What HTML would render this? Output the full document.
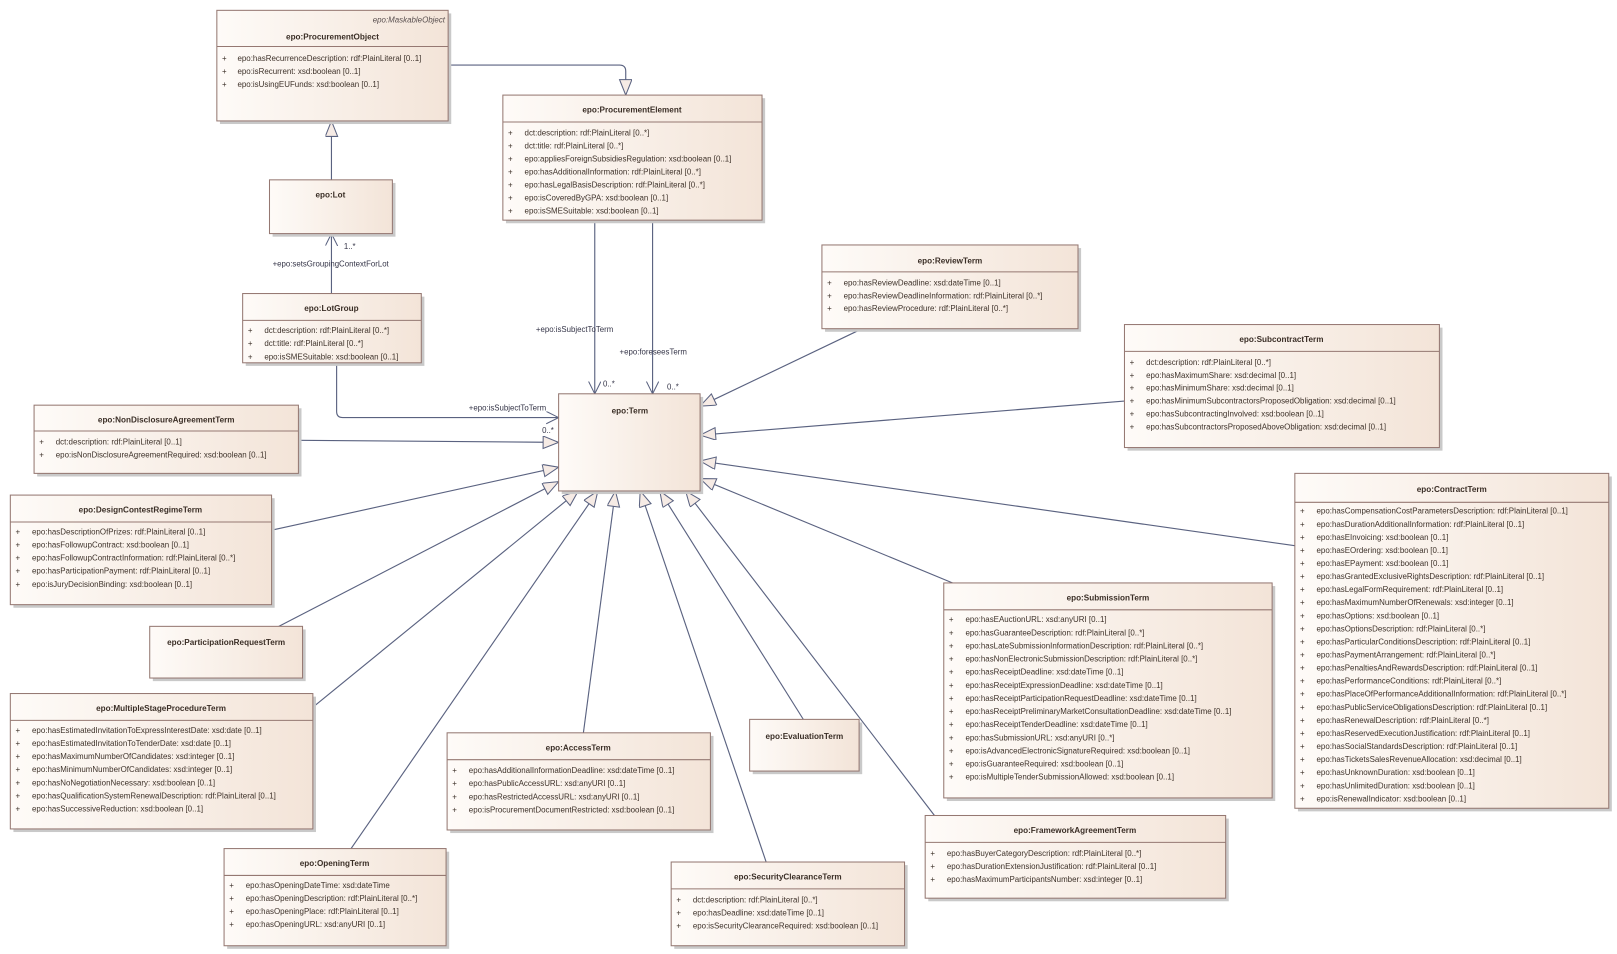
<!DOCTYPE html>
<html><head><meta charset="utf-8"><style>
html,body{margin:0;padding:0;background:#fff;}
svg{display:block;}
text{font-family:"Liberation Sans",sans-serif;font-size:7.7px;fill:#3e322a;}
.n{font-size:7.9px;text-anchor:middle;fill:#3a2e26;font-weight:bold;}
.st{font-style:italic;text-anchor:end;fill:#5a5050;}
.lb{font-size:7.6px;fill:#353548;}
.ln{stroke:#5a6280;stroke-width:1.1;fill:none;}
.bx{fill:url(#g);stroke:#957872;stroke-width:1;}
.sh{fill:#c9c9c9;}
.dv{stroke:#957872;stroke-width:1;}
</style></head><body>
<svg width="1617" height="954" viewBox="0 0 1566 923" preserveAspectRatio="none" xmlns="http://www.w3.org/2000/svg">
<defs>
<linearGradient id="g" x1="0" y1="0" x2="1" y2="0"><stop offset="0" stop-color="#fefbf8"/><stop offset="1" stop-color="#f3e4d8"/></linearGradient>
<marker id="tri" markerUnits="userSpaceOnUse" markerWidth="18" markerHeight="14" refX="16" refY="6" orient="auto"><path d="M1,0 L16,6 L1,12 Z" fill="#f6ebe5" stroke="#5a6280" stroke-width="1"/></marker>
<marker id="opn" markerUnits="userSpaceOnUse" markerWidth="14" markerHeight="14" refX="12" refY="6" orient="auto"><path d="M0,0 L12,6 L0,12" fill="none" stroke="#5a6280" stroke-width="1"/></marker>
</defs>

<path class="ln" d="M434,63 H600 Q606,63 606,69 V92" marker-end="url(#tri)"/>
<line class="ln" x1="321" y1="174" x2="321" y2="117" marker-end="url(#tri)"/>
<line class="ln" x1="321" y1="284" x2="321" y2="226" marker-end="url(#opn)"/>
<path class="ln" d="M326,351 V398 Q326,404 332,404 H541" marker-end="url(#opn)"/>
<line class="ln" x1="576" y1="213" x2="576" y2="381" marker-end="url(#opn)"/>
<line class="ln" x1="632" y1="213" x2="632" y2="381" marker-end="url(#opn)"/>
<line class="ln" x1="835" y1="318" x2="678" y2="393" marker-end="url(#tri)"/>
<line class="ln" x1="1089" y1="388" x2="678" y2="421" marker-end="url(#tri)"/>
<line class="ln" x1="1254" y1="528" x2="678" y2="446" marker-end="url(#tri)"/>
<line class="ln" x1="925" y1="565" x2="678" y2="463" marker-end="url(#tri)"/>
<line class="ln" x1="289" y1="426" x2="541" y2="428" marker-end="url(#tri)"/>
<line class="ln" x1="263" y1="513" x2="541" y2="452" marker-end="url(#tri)"/>
<line class="ln" x1="270" y1="606" x2="541" y2="466" marker-end="url(#tri)"/>
<line class="ln" x1="302" y1="685" x2="560" y2="475" marker-end="url(#tri)"/>
<line class="ln" x1="340" y1="821" x2="579" y2="475" marker-end="url(#tri)"/>
<line class="ln" x1="565" y1="709" x2="596" y2="475" marker-end="url(#tri)"/>
<line class="ln" x1="742" y1="834" x2="620" y2="475" marker-end="url(#tri)"/>
<line class="ln" x1="778" y1="696" x2="639" y2="475" marker-end="url(#tri)"/>
<line class="ln" x1="905" y1="789" x2="664" y2="475" marker-end="url(#tri)"/>

<text class="lb" x="333" y="241">1..*</text>
<text class="lb" x="264" y="258">+epo:setsGroupingContextForLot</text>
<text class="lb" x="454" y="397">+epo:isSubjectToTerm</text>
<text class="lb" x="525" y="419">0..*</text>
<text class="lb" x="519" y="321">+epo:isSubjectToTerm</text>
<text class="lb" x="584" y="374">0..*</text>
<text class="lb" x="600" y="343">+epo:foreseesTerm</text>
<text class="lb" x="646" y="377">0..*</text>

<rect class="sh" x="213" y="13" width="224" height="107"/><rect class="bx" x="210" y="10" width="224" height="107"/>
<text class="st" x="431" y="22">epo:MaskableObject</text>
<text class="n" x="322" y="38">epo:ProcurementObject</text>
<line class="dv" x1="210" y1="45" x2="434" y2="45"/>
<g><text x="215" y="59">+</text><text x="230" y="59">epo:hasRecurrenceDescription: rdf:PlainLiteral [0..1]</text>
<text x="215" y="71.7">+</text><text x="230" y="71.7">epo:isRecurrent: xsd:boolean [0..1]</text>
<text x="215" y="84.4">+</text><text x="230" y="84.4">epo:isUsingEUFunds: xsd:boolean [0..1]</text></g>

<rect class="sh" x="490" y="95" width="251" height="121"/><rect class="bx" x="487" y="92" width="251" height="121"/>
<text class="n" x="612" y="109">epo:ProcurementElement</text>
<line class="dv" x1="487" y1="118" x2="738" y2="118"/>
<g><text x="492" y="131">+</text><text x="508" y="131">dct:description: rdf:PlainLiteral [0..*]</text>
<text x="492" y="143.6">+</text><text x="508" y="143.6">dct:title: rdf:PlainLiteral [0..*]</text>
<text x="492" y="156.2">+</text><text x="508" y="156.2">epo:appliesForeignSubsidiesRegulation: xsd:boolean [0..1]</text>
<text x="492" y="168.8">+</text><text x="508" y="168.8">epo:hasAdditionalInformation: rdf:PlainLiteral [0..*]</text>
<text x="492" y="181.4">+</text><text x="508" y="181.4">epo:hasLegalBasisDescription: rdf:PlainLiteral [0..*]</text>
<text x="492" y="194">+</text><text x="508" y="194">epo:isCoveredByGPA: xsd:boolean [0..1]</text>
<text x="492" y="206.6">+</text><text x="508" y="206.6">epo:isSMESuitable: xsd:boolean [0..1]</text></g>

<rect class="sh" x="264" y="177" width="119" height="52"/><rect class="bx" x="261" y="174" width="119" height="52"/>
<text class="n" x="320" y="191">epo:Lot</text>

<rect class="sh" x="238" y="287" width="173" height="67"/><rect class="bx" x="235" y="284" width="173" height="67"/>
<text class="n" x="321" y="301">epo:LotGroup</text>
<line class="dv" x1="235" y1="310" x2="408" y2="310"/>
<text x="240" y="322">+</text><text x="256" y="322">dct:description: rdf:PlainLiteral [0..*]</text>
<text x="240" y="335">+</text><text x="256" y="335">dct:title: rdf:PlainLiteral [0..*]</text>
<text x="240" y="348">+</text><text x="256" y="348">epo:isSMESuitable: xsd:boolean [0..1]</text>

<rect class="sh" x="799" y="240" width="248" height="81"/><rect class="bx" x="796" y="237" width="248" height="81"/>
<text class="n" x="920" y="255">epo:ReviewTerm</text>
<line class="dv" x1="796" y1="263" x2="1044" y2="263"/>
<text x="801" y="276">+</text><text x="817" y="276">epo:hasReviewDeadline: xsd:dateTime [0..1]</text>
<text x="801" y="289">+</text><text x="817" y="289">epo:hasReviewDeadlineInformation: rdf:PlainLiteral [0..*]</text>
<text x="801" y="301">+</text><text x="817" y="301">epo:hasReviewProcedure: rdf:PlainLiteral [0..*]</text>

<rect class="sh" x="1092" y="317" width="305" height="119"/><rect class="bx" x="1089" y="314" width="305" height="119"/>
<text class="n" x="1241" y="331">epo:SubcontractTerm</text>
<line class="dv" x1="1089" y1="340" x2="1394" y2="340"/>
<g><text x="1094" y="353">+</text><text x="1110" y="353">dct:description: rdf:PlainLiteral [0..*]</text>
<text x="1094" y="365.5">+</text><text x="1110" y="365.5">epo:hasMaximumShare: xsd:decimal [0..1]</text>
<text x="1094" y="378">+</text><text x="1110" y="378">epo:hasMinimumShare: xsd:decimal [0..1]</text>
<text x="1094" y="390.5">+</text><text x="1110" y="390.5">epo:hasMinimumSubcontractorsProposedObligation: xsd:decimal [0..1]</text>
<text x="1094" y="403">+</text><text x="1110" y="403">epo:hasSubcontractingInvolved: xsd:boolean [0..1]</text>
<text x="1094" y="415.5">+</text><text x="1110" y="415.5">epo:hasSubcontractorsProposedAboveObligation: xsd:decimal [0..1]</text></g>

<rect class="sh" x="36" y="395" width="256" height="66"/><rect class="bx" x="33" y="392" width="256" height="66"/>
<text class="n" x="161" y="409">epo:NonDisclosureAgreementTerm</text>
<line class="dv" x1="33" y1="417" x2="289" y2="417"/>
<text x="38" y="430">+</text><text x="54" y="430">dct:description: rdf:PlainLiteral [0..1]</text>
<text x="38" y="442.5">+</text><text x="54" y="442.5">epo:isNonDisclosureAgreementRequired: xsd:boolean [0..1]</text>

<rect class="sh" x="544" y="384" width="137" height="94"/><rect class="bx" x="541" y="381" width="137" height="94"/>
<text class="n" x="610" y="400">epo:Term</text>

<rect class="sh" x="13" y="482" width="253" height="106"/><rect class="bx" x="10" y="479" width="253" height="106"/>
<text class="n" x="136" y="496">epo:DesignContestRegimeTerm</text>
<line class="dv" x1="10" y1="505" x2="263" y2="505"/>
<g><text x="15" y="517">+</text><text x="31" y="517">epo:hasDescriptionOfPrizes: rdf:PlainLiteral [0..1]</text>
<text x="15" y="529.7">+</text><text x="31" y="529.7">epo:hasFollowupContract: xsd:boolean [0..1]</text>
<text x="15" y="542.4">+</text><text x="31" y="542.4">epo:hasFollowupContractInformation: rdf:PlainLiteral [0..*]</text>
<text x="15" y="555.1">+</text><text x="31" y="555.1">epo:hasParticipationPayment: rdf:PlainLiteral [0..1]</text>
<text x="15" y="567.8">+</text><text x="31" y="567.8">epo:isJuryDecisionBinding: xsd:boolean [0..1]</text></g>

<rect class="sh" x="1257" y="461" width="304" height="324"/><rect class="bx" x="1254" y="458" width="304" height="324"/>
<text class="n" x="1406" y="476">epo:ContractTerm</text>
<line class="dv" x1="1254" y1="486" x2="1558" y2="486"/>
<g>
<text x="1259" y="497">+</text><text x="1275" y="497">epo:hasCompensationCostParametersDescription: rdf:PlainLiteral [0..1]</text>
<text x="1259" y="509.65">+</text><text x="1275" y="509.65">epo:hasDurationAdditionalInformation: rdf:PlainLiteral [0..1]</text>
<text x="1259" y="522.3">+</text><text x="1275" y="522.3">epo:hasEInvoicing: xsd:boolean [0..1]</text>
<text x="1259" y="534.95">+</text><text x="1275" y="534.95">epo:hasEOrdering: xsd:boolean [0..1]</text>
<text x="1259" y="547.6">+</text><text x="1275" y="547.6">epo:hasEPayment: xsd:boolean [0..1]</text>
<text x="1259" y="560.25">+</text><text x="1275" y="560.25">epo:hasGrantedExclusiveRightsDescription: rdf:PlainLiteral [0..1]</text>
<text x="1259" y="572.9">+</text><text x="1275" y="572.9">epo:hasLegalFormRequirement: rdf:PlainLiteral [0..1]</text>
<text x="1259" y="585.55">+</text><text x="1275" y="585.55">epo:hasMaximumNumberOfRenewals: xsd:integer [0..1]</text>
<text x="1259" y="598.2">+</text><text x="1275" y="598.2">epo:hasOptions: xsd:boolean [0..1]</text>
<text x="1259" y="610.85">+</text><text x="1275" y="610.85">epo:hasOptionsDescription: rdf:PlainLiteral [0..*]</text>
<text x="1259" y="623.5">+</text><text x="1275" y="623.5">epo:hasParticularConditionsDescription: rdf:PlainLiteral [0..1]</text>
<text x="1259" y="636.15">+</text><text x="1275" y="636.15">epo:hasPaymentArrangement: rdf:PlainLiteral [0..*]</text>
<text x="1259" y="648.8">+</text><text x="1275" y="648.8">epo:hasPenaltiesAndRewardsDescription: rdf:PlainLiteral [0..1]</text>
<text x="1259" y="661.45">+</text><text x="1275" y="661.45">epo:hasPerformanceConditions: rdf:PlainLiteral [0..*]</text>
<text x="1259" y="674.1">+</text><text x="1275" y="674.1">epo:hasPlaceOfPerformanceAdditionalInformation: rdf:PlainLiteral [0..*]</text>
<text x="1259" y="686.75">+</text><text x="1275" y="686.75">epo:hasPublicServiceObligationsDescription: rdf:PlainLiteral [0..1]</text>
<text x="1259" y="699.4">+</text><text x="1275" y="699.4">epo:hasRenewalDescription: rdf:PlainLiteral [0..*]</text>
<text x="1259" y="712.05">+</text><text x="1275" y="712.05">epo:hasReservedExecutionJustification: rdf:PlainLiteral [0..1]</text>
<text x="1259" y="724.7">+</text><text x="1275" y="724.7">epo:hasSocialStandardsDescription: rdf:PlainLiteral [0..1]</text>
<text x="1259" y="737.35">+</text><text x="1275" y="737.35">epo:hasTicketsSalesRevenueAllocation: xsd:decimal [0..1]</text>
<text x="1259" y="750">+</text><text x="1275" y="750">epo:hasUnknownDuration: xsd:boolean [0..1]</text>
<text x="1259" y="762.65">+</text><text x="1275" y="762.65">epo:hasUnlimitedDuration: xsd:boolean [0..1]</text>
<text x="1259" y="775.3">+</text><text x="1275" y="775.3">epo:isRenewalIndicator: xsd:boolean [0..1]</text>
</g>

<rect class="sh" x="148" y="609" width="148" height="50"/><rect class="bx" x="145" y="606" width="148" height="50"/>
<text class="n" x="219" y="624">epo:ParticipationRequestTerm</text>

<rect class="sh" x="13" y="674" width="293" height="131"/><rect class="bx" x="10" y="671" width="293" height="131"/>
<text class="n" x="156" y="688">epo:MultipleStageProcedureTerm</text>
<line class="dv" x1="10" y1="697" x2="303" y2="697"/>
<g><text x="15" y="709">+</text><text x="31" y="709">epo:hasEstimatedInvitationToExpressInterestDate: xsd:date [0..1]</text>
<text x="15" y="721.7">+</text><text x="31" y="721.7">epo:hasEstimatedInvitationToTenderDate: xsd:date [0..1]</text>
<text x="15" y="734.4">+</text><text x="31" y="734.4">epo:hasMaximumNumberOfCandidates: xsd:integer [0..1]</text>
<text x="15" y="747.1">+</text><text x="31" y="747.1">epo:hasMinimumNumberOfCandidates: xsd:integer [0..1]</text>
<text x="15" y="759.8">+</text><text x="31" y="759.8">epo:hasNoNegotiationNecessary: xsd:boolean [0..1]</text>
<text x="15" y="772.5">+</text><text x="31" y="772.5">epo:hasQualificationSystemRenewalDescription: rdf:PlainLiteral [0..1]</text>
<text x="15" y="785.2">+</text><text x="31" y="785.2">epo:hasSuccessiveReduction: xsd:boolean [0..1]</text></g>

<rect class="sh" x="917" y="567" width="318" height="208"/><rect class="bx" x="914" y="564" width="318" height="208"/>
<text class="n" x="1073" y="581">epo:SubmissionTerm</text>
<line class="dv" x1="914" y1="590" x2="1232" y2="590"/>
<g>
<text x="919" y="602">+</text><text x="935" y="602">epo:hasEAuctionURL: xsd:anyURI [0..1]</text>
<text x="919" y="614.7">+</text><text x="935" y="614.7">epo:hasGuaranteeDescription: rdf:PlainLiteral [0..*]</text>
<text x="919" y="627.4">+</text><text x="935" y="627.4">epo:hasLateSubmissionInformationDescription: rdf:PlainLiteral [0..*]</text>
<text x="919" y="640.1">+</text><text x="935" y="640.1">epo:hasNonElectronicSubmissionDescription: rdf:PlainLiteral [0..*]</text>
<text x="919" y="652.8">+</text><text x="935" y="652.8">epo:hasReceiptDeadline: xsd:dateTime [0..1]</text>
<text x="919" y="665.5">+</text><text x="935" y="665.5">epo:hasReceiptExpressionDeadline: xsd:dateTime [0..1]</text>
<text x="919" y="678.2">+</text><text x="935" y="678.2">epo:hasReceiptParticipationRequestDeadline: xsd:dateTime [0..1]</text>
<text x="919" y="690.9">+</text><text x="935" y="690.9">epo:hasReceiptPreliminaryMarketConsultationDeadline: xsd:dateTime [0..1]</text>
<text x="919" y="703.6">+</text><text x="935" y="703.6">epo:hasReceiptTenderDeadline: xsd:dateTime [0..1]</text>
<text x="919" y="716.3">+</text><text x="935" y="716.3">epo:hasSubmissionURL: xsd:anyURI [0..*]</text>
<text x="919" y="729">+</text><text x="935" y="729">epo:isAdvancedElectronicSignatureRequired: xsd:boolean [0..1]</text>
<text x="919" y="741.7">+</text><text x="935" y="741.7">epo:isGuaranteeRequired: xsd:boolean [0..1]</text>
<text x="919" y="754.4">+</text><text x="935" y="754.4">epo:isMultipleTenderSubmissionAllowed: xsd:boolean [0..1]</text>
</g>

<rect class="sh" x="436" y="712" width="255" height="94"/><rect class="bx" x="433" y="709" width="255" height="94"/>
<text class="n" x="560" y="726">epo:AccessTerm</text>
<line class="dv" x1="433" y1="735" x2="688" y2="735"/>
<text x="438" y="748">+</text><text x="454" y="748">epo:hasAdditionalInformationDeadline: xsd:dateTime [0..1]</text>
<text x="438" y="760.7">+</text><text x="454" y="760.7">epo:hasPublicAccessURL: xsd:anyURI [0..1]</text>
<text x="438" y="773.4">+</text><text x="454" y="773.4">epo:hasRestrictedAccessURL: xsd:anyURI [0..1]</text>
<text x="438" y="786.1">+</text><text x="454" y="786.1">epo:isProcurementDocumentRestricted: xsd:boolean [0..1]</text>

<rect class="sh" x="729" y="699" width="106" height="50"/><rect class="bx" x="726" y="696" width="106" height="50"/>
<text class="n" x="779" y="715">epo:EvaluationTerm</text>

<rect class="sh" x="899" y="792" width="291" height="80"/><rect class="bx" x="896" y="789" width="291" height="80"/>
<text class="n" x="1041" y="806">epo:FrameworkAgreementTerm</text>
<line class="dv" x1="896" y1="815" x2="1187" y2="815"/>
<text x="901" y="828">+</text><text x="917" y="828">epo:hasBuyerCategoryDescription: rdf:PlainLiteral [0..*]</text>
<text x="901" y="840.7">+</text><text x="917" y="840.7">epo:hasDurationExtensionJustification: rdf:PlainLiteral [0..1]</text>
<text x="901" y="853.4">+</text><text x="917" y="853.4">epo:hasMaximumParticipantsNumber: xsd:integer [0..1]</text>

<rect class="sh" x="220" y="824" width="215" height="94"/><rect class="bx" x="217" y="821" width="215" height="94"/>
<text class="n" x="324" y="838">epo:OpeningTerm</text>
<line class="dv" x1="217" y1="847" x2="432" y2="847"/>
<text x="222" y="859">+</text><text x="238" y="859">epo:hasOpeningDateTime: xsd:dateTime</text>
<text x="222" y="871.7">+</text><text x="238" y="871.7">epo:hasOpeningDescription: rdf:PlainLiteral [0..*]</text>
<text x="222" y="884.4">+</text><text x="238" y="884.4">epo:hasOpeningPlace: rdf:PlainLiteral [0..1]</text>
<text x="222" y="897.1">+</text><text x="238" y="897.1">epo:hasOpeningURL: xsd:anyURI [0..1]</text>

<rect class="sh" x="653" y="837" width="226" height="81"/><rect class="bx" x="650" y="834" width="226" height="81"/>
<text class="n" x="763" y="851">epo:SecurityClearanceTerm</text>
<line class="dv" x1="650" y1="860" x2="876" y2="860"/>
<text x="655" y="873">+</text><text x="671" y="873">dct:description: rdf:PlainLiteral [0..*]</text>
<text x="655" y="885.7">+</text><text x="671" y="885.7">epo:hasDeadline: xsd:dateTime [0..1]</text>
<text x="655" y="898.4">+</text><text x="671" y="898.4">epo:isSecurityClearanceRequired: xsd:boolean [0..1]</text>
</svg>
</body></html>
